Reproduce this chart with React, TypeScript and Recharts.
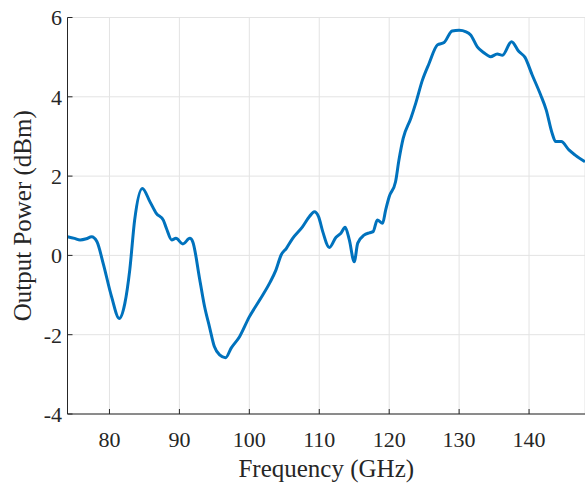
import { CartesianGrid, Line, LineChart, XAxis, YAxis } from 'recharts';

// Frecuencia (GHz) y potencia de salida (dBm)
const freqs = [
  74, 75, 75.8, 76.7, 77.45, 78.2, 79.1, 80.3, 81.4, 82.2, 82.9, 83.6, 84.7, 85.8, 86.7, 87.7,
  88.15, 88.9, 89.5, 90.5, 91.5, 91.9, 92.9, 93.6, 94.3, 95.0, 95.75, 96.6, 97.4, 98.6, 100.0,
  101.5, 102.9, 103.8, 104.55, 105.3, 106.2, 107.6, 108.6, 109.3, 109.9, 110.5, 111.45, 112.4,
  113.1, 113.7, 114.3, 115.0, 115.5, 116.4, 117.15, 117.7, 118.3, 119.05, 119.5, 120.0, 120.9,
  121.4, 122.0, 123.1, 123.8, 124.75, 125.7, 126.9, 127.85, 129.0, 130.0, 131.0, 131.65, 132.6,
  133.55, 134.5, 135.45, 136.2, 137.5, 138.55, 139.4, 140.45, 141.65, 142.45, 143.3, 143.8,
  144.6, 145.7, 146.6, 148,
];
const power = [
  0.47, 0.43, 0.39, 0.42, 0.47, 0.35, -0.2, -1.04, -1.59, -1.21, -0.37, 0.89, 1.69, 1.35, 1.06,
  0.89, 0.68, 0.39, 0.43, 0.29, 0.43, 0.35, -0.6, -1.29, -1.8, -2.3, -2.51, -2.58, -2.34, -2.05,
  -1.55, -1.12, -0.7, -0.37, 0.01, 0.18, 0.43, 0.72, 0.98, 1.1, 0.98, 0.6, 0.2, 0.46, 0.56, 0.71,
  0.39, -0.16, 0.31, 0.51, 0.57, 0.6, 0.89, 0.81, 1.15, 1.48, 1.85, 2.41, 2.95, 3.46, 3.84, 4.42,
  4.84, 5.31, 5.37, 5.66, 5.68, 5.64, 5.56, 5.26, 5.11, 5.01, 5.08, 5.05, 5.39, 5.14, 5.0, 4.55,
  4.05, 3.67, 3.08, 2.87, 2.87, 2.66, 2.53, 2.36,
];
const xTicks = [80, 90, 100, 110, 120, 130, 140];
const yTicks = [-4, -2, 0, 2, 4, 6];

const data = freqs.map((f, i) => ({ f, p: power[i] }));

const FONT = '"Liberation Serif", "Times New Roman", serif';
const AXIS = '#262626';
const tickStyle = { fontFamily: FONT, fontSize: 22, fill: AXIS };

export default function App() {
  return (
    <div style={{ position: 'fixed', left: 0, top: 0, background: '#fff' }}>
      <LineChart
        width={585}
        height={483}
        data={data}
        margin={{ top: 17.5, right: 0, bottom: 0, left: 0 }}
      >
        <CartesianGrid stroke="#e3e3e3" strokeWidth={1} />
        <XAxis
          dataKey="f"
          type="number"
          domain={[74, 148]}
          ticks={xTicks}
          allowDataOverflow
          height={69}
          stroke={AXIS}
          tickSize={-5}
          tickMargin={22.5}
          tick={tickStyle}
          label={{
            value: 'Frequency (GHz)',
            position: 'insideBottom',
            offset: 6,
            style: { fontFamily: FONT, fontSize: 25, fill: AXIS },
          }}
        />
        <XAxis
          xAxisId="top"
          orientation="top"
          dataKey="f"
          type="number"
          domain={[74, 148]}
          ticks={xTicks}
          allowDataOverflow
          height={0}
          stroke={AXIS}
          tickSize={-5}
          tick={false}
        />
        <YAxis
          type="number"
          domain={[-4, 6]}
          ticks={yTicks}
          allowDataOverflow
          width={67.5}
          stroke={AXIS}
          tickSize={-5}
          tickMargin={10.5}
          tick={tickStyle}
          label={{
            value: 'Output Power (dBm)',
            angle: -90,
            position: 'insideLeft',
            offset: 22,
            style: { fontFamily: FONT, fontSize: 25, fill: AXIS, textAnchor: 'middle' },
          }}
        />
        <YAxis
          yAxisId="right"
          orientation="right"
          type="number"
          domain={[-4, 6]}
          ticks={yTicks}
          width={0}
          stroke={AXIS}
          tickSize={-5}
          tick={false}
        />
        <Line
          type="monotone"
          dataKey="p"
          stroke="#0072BD"
          strokeWidth={3}
          dot={false}
          isAnimationActive={false}
        />
      </LineChart>
    </div>
  );
}
